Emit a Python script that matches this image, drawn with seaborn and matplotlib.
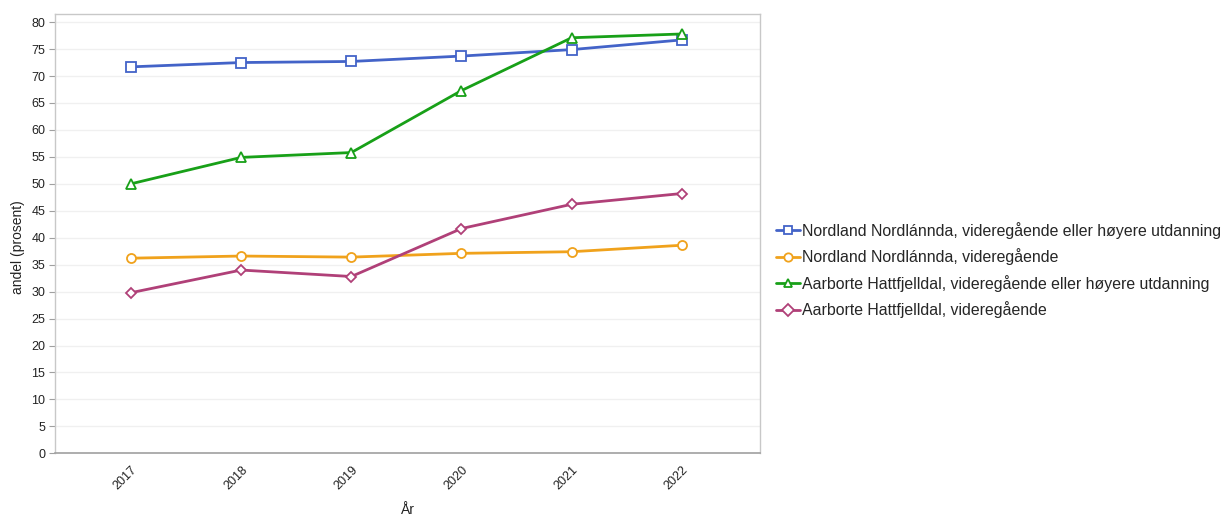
import matplotlib
matplotlib.use("Agg")
import matplotlib.pyplot as plt
import seaborn as sns
import pandas as pd

years = [2017, 2018, 2019, 2020, 2021, 2022]
series_names = [
    "Nordland Nordlánnda, videregående eller høyere utdanning",
    "Nordland Nordlánnda, videregående",
    "Aarborte Hattfjelldal, videregående eller høyere utdanning",
    "Aarborte Hattfjelldal, videregående",
]
nordland_vgs_hoyere = [71.7, 72.5, 72.7, 73.7, 74.9, 76.7]
nordland_vgs = [36.2, 36.6, 36.4, 37.1, 37.4, 38.6]
hattfjelldal_vgs_hoyere = [50.0, 54.9, 55.8, 67.3, 77.1, 77.8]
hattfjelldal_vgs = [29.8, 34.0, 32.8, 41.7, 46.2, 48.2]

values = [nordland_vgs_hoyere, nordland_vgs, hattfjelldal_vgs_hoyere, hattfjelldal_vgs]
colors = ["#4363c8", "#f0a21c", "#18a018", "#b04078"]
marker_list = ["s", "o", "^", "D"]

rows = []
for name, vals in zip(series_names, values):
    for y, v in zip(years, vals):
        rows.append({"År": y, "andel": v, "serie": name})
df = pd.DataFrame(rows)

sns.set_theme(style="white")
plt.rcParams["font.family"] = ["Liberation Sans", "DejaVu Sans"]

fig = plt.figure(figsize=(12.27, 5.17), dpi=100)
ax = fig.add_axes([55 / 1227, 1 - 453.3 / 517, (760 - 55) / 1227, (453.3 - 14.3) / 517])

sns.lineplot(
    data=df, x="År", y="andel", hue="serie", style="serie",
    hue_order=series_names, style_order=series_names,
    palette=dict(zip(series_names, colors)),
    markers=dict(zip(series_names, marker_list)),
    dashes=False, linewidth=2.0, markersize=6.5, legend=False, ax=ax,
)

for line, m in zip(ax.lines, marker_list):
    c = line.get_color()
    line.set_markerfacecolor("white")
    line.set_markeredgecolor(c)
    line.set_markeredgewidth(1.3)
    if m == "D":
        line.set_markersize(5.5)

ax.set_xlim(2016.31, 2022.71)
ax.set_ylim(0, 81.45)
ax.set_yticks(range(0, 81, 5))
ax.set_xticks(years)
ax.set_xticklabels([str(y) for y in years], rotation=45, ha="right", va="top",
                   rotation_mode="anchor")
ax.yaxis.grid(True, color="#f0f0f0", linewidth=1.0)
ax.set_axisbelow(True)

for side in ["top", "right", "left"]:
    ax.spines[side].set_color("#c8c8c8")
    ax.spines[side].set_linewidth(1.0)
ax.spines["bottom"].set_color("#a0a0a0")
ax.spines["bottom"].set_linewidth(1.2)

ax.tick_params(axis="y", left=True, length=4, width=0.8, color="#a0a0a0",
               labelsize=9, labelcolor="#222222", pad=3)
ax.tick_params(axis="x", bottom=False, labelsize=9, labelcolor="#222222", pad=1.5)

ax.set_xlabel("År", fontsize=10, color="#222222", labelpad=8)
ax.set_ylabel("andel (prosent)", fontsize=10, color="#222222")
ax.yaxis.set_label_coords(-0.042, 0.47)

leg = fig.legend(
    handles=ax.lines[:4], labels=series_names,
    loc="center left", bbox_to_anchor=(770 / 1227, 1 - 270 / 517),
    frameon=False, fontsize=11.4, handlelength=1.5, handletextpad=0.15,
    labelspacing=0.6, borderaxespad=0,
)
for h in leg.legend_handles:
    h.set_linewidth(2.0)
    h.set_markersize(6)

fig.savefig("out.png", dpi=100)
